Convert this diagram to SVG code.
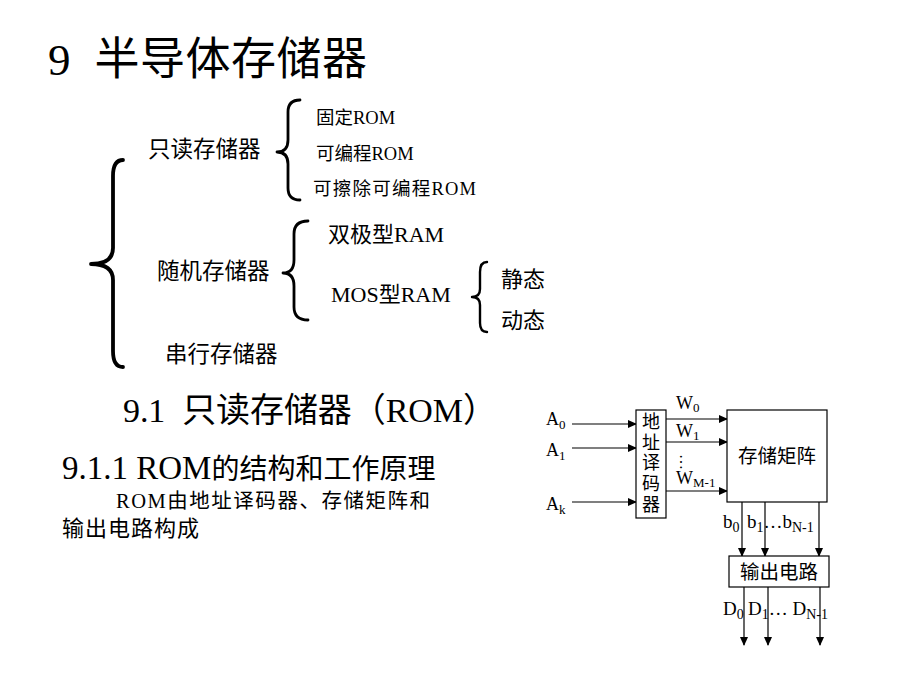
<svg xmlns="http://www.w3.org/2000/svg" width="920" height="690" viewBox="0 0 920 690">
<style>
text{font-family:"Liberation Serif","Noto Sans CJK SC",serif;fill:#000}
.brace{fill:none;stroke:#000;stroke-linecap:round;stroke-linejoin:round}
.box{fill:#fff;stroke:#000;stroke-width:1.2}
.ln{stroke:#000;stroke-width:1.2;fill:none}
</style>
<defs>
<marker id="arr" markerWidth="9" markerHeight="8" refX="8" refY="4" orient="auto" markerUnits="userSpaceOnUse">
<path d="M0,0 L9,4 L0,8 Z" fill="#000"/>
</marker>
</defs>
<rect width="920" height="690" fill="#fff"/>

<g id="title"><text x="48" y="75" font-size="45" xml:space="preserve" textLength="319" lengthAdjust="spacing">9  半导体存储器</text></g>

<g id="braces">
<path class="brace" stroke-width="3.8" d="M123,160 Q113,160 113,176 L113,248 Q113,264 91,264 Q113,264 113,280 L113,351 Q113,367 123,367"/>
<path class="brace" stroke-width="2.8" d="M300,100 Q288,100 288,112 L288,140 Q288,152 277,152 Q288,152 288,164 L288,188 Q288,200 300,200"/>
<path class="brace" stroke-width="2.8" d="M308,221 Q294,221 294,234 L294,260 Q294,273 283,273 Q294,273 294,286 L294,307 Q294,320 308,320"/>
<path class="brace" stroke-width="2.4" d="M487,262 Q480,262 480,272 L480,289 Q480,297 472,297 Q480,297 480,305 L480,323 Q480,332 487,332"/>
</g>

<g id="tree">
<text x="148" y="157" font-size="22.5">只读存储器</text>
<text x="316" y="124" font-size="18.5">固定ROM</text>
<text x="316" y="160" font-size="18.5">可编程ROM</text>
<text x="313" y="195" font-size="18.5" textLength="163" lengthAdjust="spacing">可擦除可编程ROM</text>
<text x="157" y="279" font-size="22.5">随机存储器</text>
<text x="328" y="242" font-size="22">双极型RAM</text>
<text x="331" y="302" font-size="22">MOS型RAM</text>
<text x="501" y="287" font-size="22">静态</text>
<text x="501" y="328" font-size="22">动态</text>
<text x="165" y="362" font-size="22.5">串行存储器</text>
</g>

<g id="headings">
<text x="123" y="422" font-size="34" xml:space="preserve" textLength="374" lengthAdjust="spacing">9.1  只读存储器（ROM）</text>
<text x="62" y="479" font-size="28"><tspan font-size="33">9.1.1 ROM</tspan>的结构和工作原理</text>
<text x="116" y="508" font-size="20.5" textLength="314" lengthAdjust="spacing">ROM由地址译码器、存储矩阵和</text>
<text x="62" y="536" font-size="22" textLength="137" lengthAdjust="spacing">输出电路构成</text>
</g>

<g id="connectors">
<line class="ln" x1="572" y1="424" x2="636" y2="424" marker-end="url(#arr)"/>
<line class="ln" x1="572" y1="448" x2="636" y2="448" marker-end="url(#arr)"/>
<line class="ln" x1="572" y1="502" x2="636" y2="502" marker-end="url(#arr)"/>
<line class="ln" x1="666" y1="419" x2="727" y2="419" marker-end="url(#arr)"/>
<line class="ln" x1="666" y1="442" x2="727" y2="442" marker-end="url(#arr)"/>
<line class="ln" x1="666" y1="491" x2="727" y2="491" marker-end="url(#arr)"/>
<line class="ln" x1="742" y1="502" x2="742" y2="556" marker-end="url(#arr)"/>
<line class="ln" x1="765" y1="502" x2="765" y2="556" marker-end="url(#arr)"/>
<line class="ln" x1="819" y1="502" x2="819" y2="556" marker-end="url(#arr)"/>
<line class="ln" x1="744" y1="587" x2="744" y2="645" marker-end="url(#arr)"/>
<line class="ln" x1="768" y1="587" x2="768" y2="645" marker-end="url(#arr)"/>
<line class="ln" x1="820" y1="587" x2="820" y2="645" marker-end="url(#arr)"/>
</g>

<g id="decoder">
<rect class="box" x="636" y="410" width="30" height="108"/>
<g font-size="18" text-anchor="middle">
<text x="651" y="428">地</text>
<text x="651" y="449">址</text>
<text x="651" y="469">译</text>
<text x="651" y="490">码</text>
<text x="651" y="511">器</text>
</g>
</g>

<g id="matrix">
<rect class="box" x="727" y="410" width="100" height="92"/>
<text x="777" y="463" font-size="19.5" text-anchor="middle">存储矩阵</text>
</g>

<g id="output">
<rect class="box" x="729" y="556" width="100" height="31"/>
<text x="779" y="579" font-size="19.5" text-anchor="middle">输出电路</text>
</g>

<g id="labels" font-size="18">
<text x="546" y="425">A<tspan font-size="13" dy="4">0</tspan></text>
<text x="546" y="456">A<tspan font-size="13" dy="4">1</tspan></text>
<text x="546" y="510">A<tspan font-size="13" dy="4">k</tspan></text>
<text x="676" y="409">W<tspan font-size="13" dy="3">0</tspan></text>
<text x="676" y="437">W<tspan font-size="13" dy="3">1</tspan></text>
<text x="0" y="0" font-size="16" transform="translate(680,454) rotate(90)">…</text>
<text x="676" y="484">W<tspan font-size="13" dy="3">M-1</tspan></text>
<text x="723" y="528" font-size="19">b<tspan font-size="14" dy="4">0</tspan></text>
<text x="747" y="528" font-size="19">b<tspan font-size="14" dy="4">1</tspan><tspan dy="-4">…b</tspan><tspan font-size="14" dy="4">N-1</tspan></text>
<text x="723" y="615" font-size="19">D<tspan font-size="14" dy="4">0</tspan></text>
<text x="748" y="615" font-size="19">D<tspan font-size="14" dy="4">1</tspan><tspan dy="-4">… D</tspan><tspan font-size="14" dy="4">N-1</tspan></text>
</g>
</svg>
